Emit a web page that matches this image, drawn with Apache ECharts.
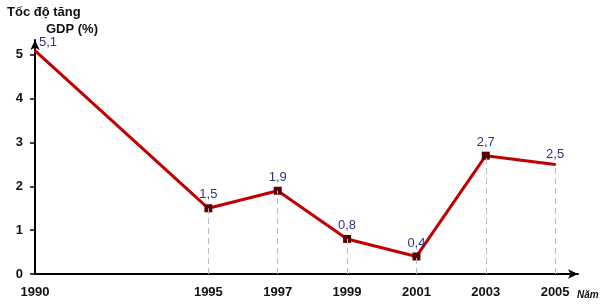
<!DOCTYPE html>
<html><head><meta charset="utf-8">
<script src="https://cdn.jsdelivr.net/npm/echarts@6/dist/echarts.min.js"></script>
<style>html,body{margin:0;padding:0;background:#fff}#c{width:605px;height:307px}</style>
</head><body><div id="c"></div>
<script>
const years = [1990, 1995, 1997, 1999, 2001, 2003, 2005];
const growth = [5.1, 1.5, 1.9, 0.8, 0.4, 2.7, 2.5];
const yTicks = [0, 1, 2, 3, 4, 5];

const chart = echarts.init(document.getElementById('c'));
const pts = years.map((y, i) => {
  const end = (i === 0 || i === years.length - 1);
  return {
    value: [y, growth[i]],
    symbolSize: end ? 2 : 8,
    itemStyle: {color: end ? '#c00000' : '#5a0000'}
  };
});
const drops = years.slice(1).map((y, i) => [{coord: [y, 0]}, {coord: [y, growth[i + 1]]}]);

chart.setOption({
  animation: false,
  grid: {left: 35, right: 27, top: 40, bottom: 33},
  title: [
    {text: 'Tốc độ tăng', left: 2, top: 1, textStyle: {fontFamily: 'Liberation Sans', fontSize: 13, fontWeight: 'bold', color: '#111'}},
    {text: 'GDP (%)', left: 41, top: 18, textStyle: {fontFamily: 'Liberation Sans', fontSize: 13, fontWeight: 'bold', color: '#111'}},
    {text: 'Năm', left: 572, top: 285, textStyle: {fontFamily: 'Liberation Sans', fontSize: 10, fontWeight: 'bold', fontStyle: 'italic', color: '#111'}}
  ],
  xAxis: {
    type: 'value', min: 1990, max: 2005.66,
    splitLine: {show: false},
    axisLine: {lineStyle: {color: '#000', width: 2}, symbol: ['none', 'arrow'], symbolSize: [7, 10]},
    axisTick: {show: false},
    axisLabel: {customValues: years, formatter: v => String(v), fontFamily: 'Liberation Sans', fontSize: 13, fontWeight: 'bold', color: '#111', margin: 12}
  },
  yAxis: {
    type: 'value', min: 0, max: 5.34,
    splitLine: {show: false},
    axisLine: {show: true, lineStyle: {color: '#000', width: 2}, symbol: ['none', 'arrow'], symbolSize: [7, 10]},
    axisTick: {show: true, customValues: yTicks, length: 5, lineStyle: {color: '#000', width: 1.5}},
    axisLabel: {customValues: yTicks, formatter: v => String(v), fontFamily: 'Liberation Sans', fontSize: 13, fontWeight: 'bold', color: '#111', margin: 12}
  },
  series: [{
    type: 'line',
    data: pts,
    symbol: 'rect',
    showAllSymbol: true,
    lineStyle: {color: '#c00000', width: 3},
    label: {
      show: true, position: 'top', distance: 3,
      formatter: p => String(p.value[1]).replace('.', ','),
      fontFamily: 'Liberation Sans', fontSize: 13, color: '#2d3580'
    },
    labelLayout: p => p.dataIndex === 0 ? {dx: 13, dy: 2} : {},
    markLine: {
      silent: true, symbol: 'none', label: {show: false},
      lineStyle: {color: '#bbb', type: [6, 4], width: 1},
      data: drops
    },
    z: 3
  }]
});
</script></body></html>
